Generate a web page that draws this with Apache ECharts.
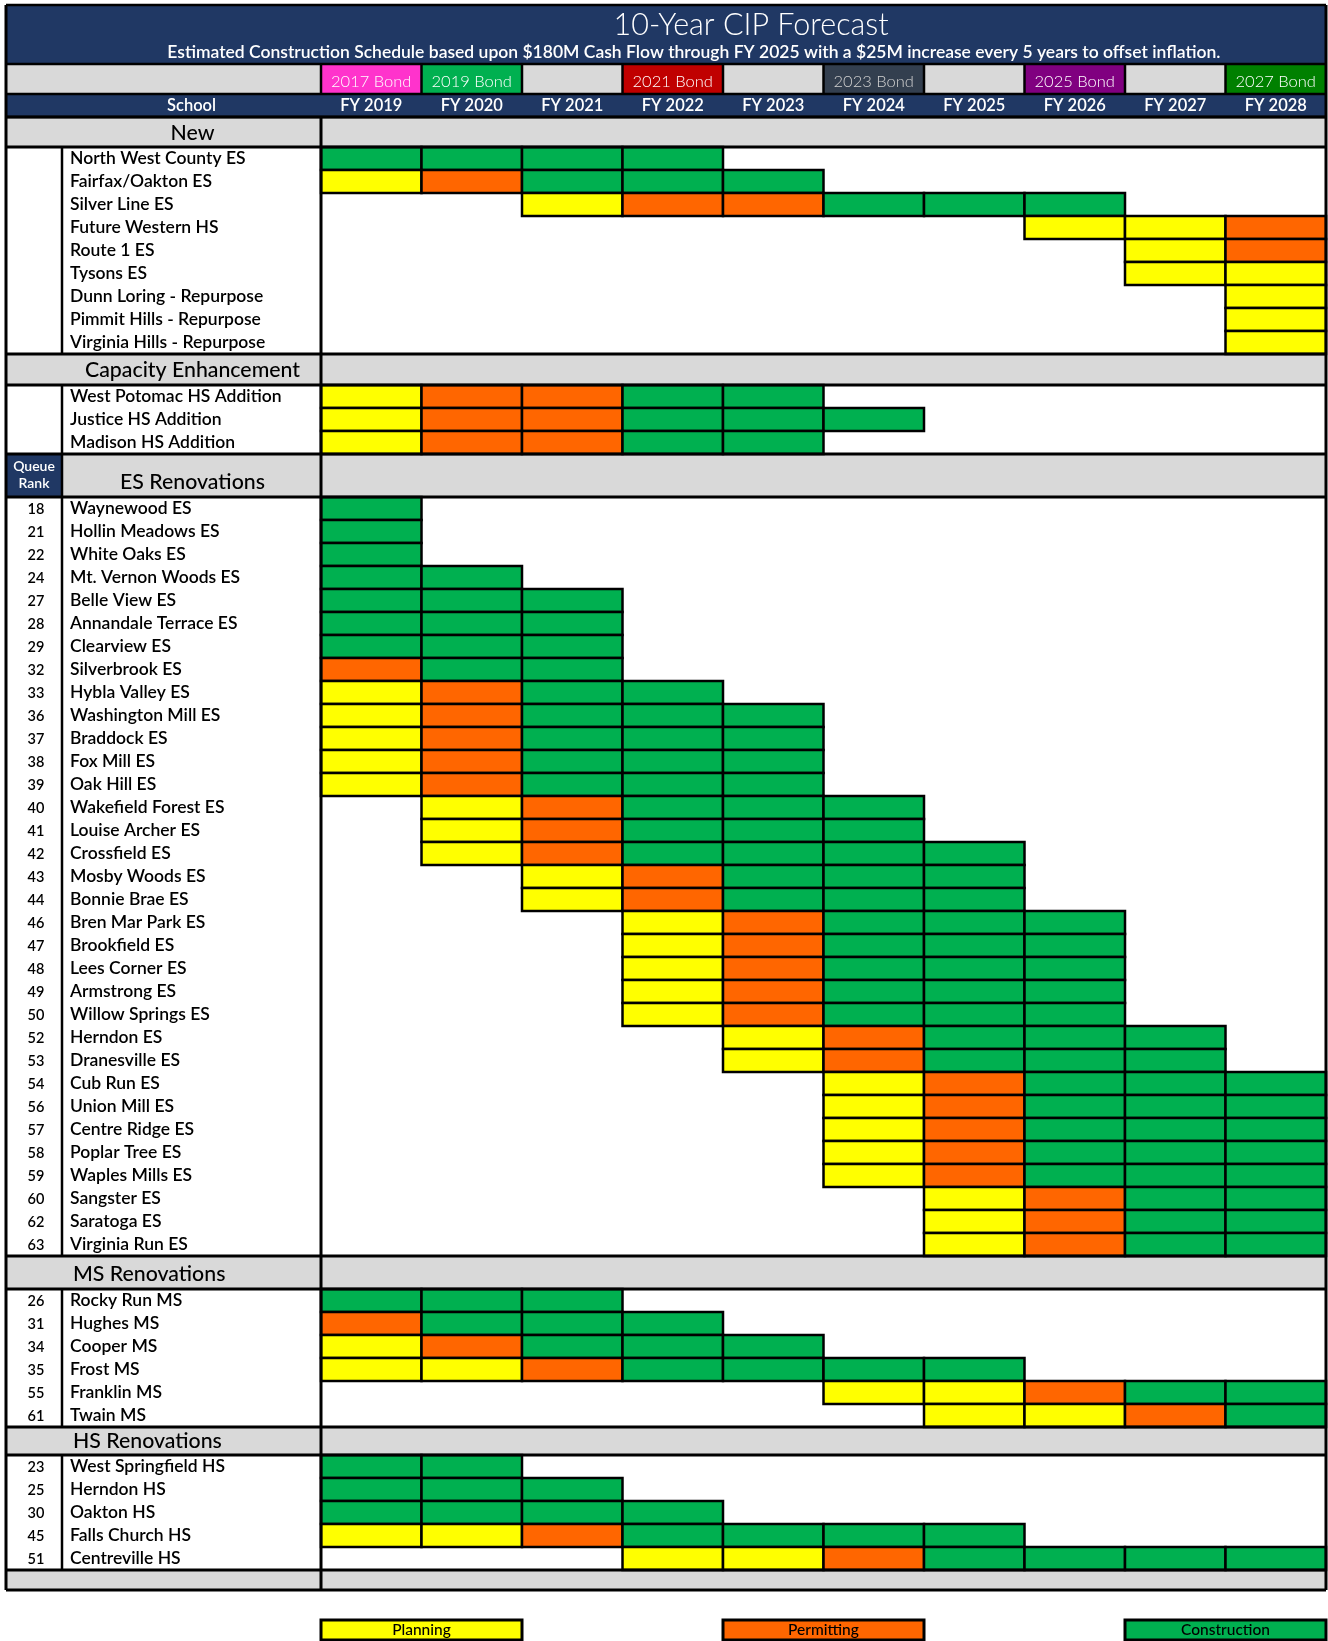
<!DOCTYPE html>
<html><head><meta charset="utf-8">
<script src="https://cdn.jsdelivr.net/npm/echarts@6/dist/echarts.min.js"></script>
<style>html,body{margin:0;padding:0;background:#fff}#chart{width:1328px;height:1641px}</style>
</head><body><div id="chart"></div>
<script>
// ================= DATA =================
const chartTitle = '10-Year CIP Forecast';
const chartSubtitle = 'Estimated Construction Schedule based upon $180M Cash Flow through FY 2025 with a $25M increase every 5 years to offset inflation.';
const fiscalYears = ['FY 2019','FY 2020','FY 2021','FY 2022','FY 2023','FY 2024','FY 2025','FY 2026','FY 2027','FY 2028'];
const bondLabels = ['2017 Bond','2019 Bond','','2021 Bond','','2023 Bond','','2025 Bond','','2027 Bond'];
const schoolHeader = 'School';
const queueRankLabel = ['Queue','Rank'];
const sectionNames = ['New','Capacity Enhancement','ES Renovations','MS Renovations','HS Renovations'];
const phaseNames = ['Planning','Permitting','Construction'];
const phaseCodes = ['P','M','C']; // '.' = no activity that year

const newSchools = ['North West County ES','Fairfax/Oakton ES','Silver Line ES','Future Western HS','Route 1 ES','Tysons ES','Dunn Loring - Repurpose','Pimmit Hills - Repurpose','Virginia Hills - Repurpose'];
const newPlans = ['CCCC','PMCCC','..PMMCCC','.......PPM','........PM','........PP','.........P','.........P','.........P'];

const capacitySchools = ['West Potomac HS Addition','Justice HS Addition','Madison HS Addition'];
const capacityPlans = ['PMMCC','PMMCCC','PMMCC'];

const esRanks = [18,21,22,24,27,28,29,32,33,36,37,38,39,40,41,42,43,44,46,47,48,49,50,52,53,54,56,57,58,59,60,62,63];
const esSchools = ['Waynewood ES','Hollin Meadows ES','White Oaks ES','Mt. Vernon Woods ES','Belle View ES','Annandale Terrace ES','Clearview ES','Silverbrook ES','Hybla Valley ES','Washington Mill ES','Braddock ES','Fox Mill ES','Oak Hill ES','Wakefield Forest ES','Louise Archer ES','Crossfield ES','Mosby Woods ES','Bonnie Brae ES','Bren Mar Park ES','Brookfield ES','Lees Corner ES','Armstrong ES','Willow Springs ES','Herndon ES','Dranesville ES','Cub Run ES','Union Mill ES','Centre Ridge ES','Poplar Tree ES','Waples Mills ES','Sangster ES','Saratoga ES','Virginia Run ES'];
const esPlans = ['C','C','C','CC','CCC','CCC','CCC','MCC','PMCC','PMCCC','PMCCC','PMCCC','PMCCC','.PMCCC','.PMCCC','.PMCCCC','..PMCCC','..PMCCC','...PMCCC','...PMCCC','...PMCCC','...PMCCC','...PMCCC','....PMCCC','....PMCCC','.....PMCCC','.....PMCCC','.....PMCCC','.....PMCCC','.....PMCCC','......PMCC','......PMCC','......PMCC'];

const msRanks = [26,31,34,35,55,61];
const msSchools = ['Rocky Run MS','Hughes MS','Cooper MS','Frost MS','Franklin MS','Twain MS'];
const msPlans = ['CCC','MCCC','PMCCC','PPMCCCC','.....PPMCC','......PPMC'];

const hsRanks = [23,25,30,45,51];
const hsSchools = ['West Springfield HS','Herndon HS','Oakton HS','Falls Church HS','Centreville HS'];
const hsPlans = ['CC','CCC','CCCC','PPMCCCC','...PPMCCCC'];

// ================= STYLE / LAYOUT =================
const FONT = 'Lato, "Open Sans", sans-serif';
const NAVY = '#203864', GRAY = '#D9D9D9';
const PHASE_COLORS = { P: '#FFFF00', M: '#FF6600', C: '#00B050' };
const BOND_COLORS = { '2017 Bond': '#FF33CC', '2019 Bond': '#00B050', '2021 Bond': '#C00000', '2023 Bond': '#333F4F', '2025 Bond': '#800080', '2027 Bond': '#008000' };
const BOND_TEXT = { '2023 Bond': '#D0D0D0' };
const LEGEND_SPANS = [[0, 2], [4, 6], [8, 10]];

const COL_PX = 100.5;               // one fiscal-year column
const LEFT_PX = 315;                // rank + school columns width
const XL = -LEFT_PX / COL_PX;       // left edge of table in column units
const RANK_X = XL + 56 / COL_PX;    // rank / school divider
const ROW_PX = 23;

const sections = [
  { name: sectionNames[0], ranks: [], schools: newSchools, plans: newPlans, headerPx: 30, align: 'center', dy: 1 },
  { name: sectionNames[1], ranks: [], schools: capacitySchools, plans: capacityPlans, headerPx: 31, align: 'center', dy: 1 },
  { name: sectionNames[2], ranks: esRanks, schools: esSchools, plans: esPlans, headerPx: 43, align: 'center', dy: 7, queue: true },
  { name: sectionNames[3], ranks: msRanks, schools: msSchools, plans: msPlans, headerPx: 33, align: 'left', dy: 2 },
  { name: sectionNames[4], ranks: hsRanks, schools: hsSchools, plans: hsPlans, headerPx: 28, align: 'left', dy: 0 }
];

const bands = [];
let cursor = 0;
function pushBand(b, px) { b.y0 = cursor; cursor += px / ROW_PX; b.y1 = cursor; bands.push(b); return b; }
const titleBand = pushBand({ kind: 'title' }, 59);
const bondBand = pushBand({ kind: 'bond' }, 30);
const fyBand = pushBand({ kind: 'fy' }, 23);
const rows = [];
sections.forEach(sec => {
  sec.header = pushBand({ kind: 'section', sec }, sec.headerPx);
  sec.rowStart = cursor;
  sec.schools.forEach((name, i) => {
    rows.push(pushBand({ kind: 'row', name, rank: sec.ranks[i], plan: sec.plans[i] }, ROW_PX));
  });
  sec.rowEnd = cursor;
});
const footerBand = pushBand({ kind: 'footer' }, 20);
pushBand({ kind: 'gap' }, 30);
const legendBand = pushBand({ kind: 'legend' }, 20);
const TOTAL = cursor;

// cells: [col, y0, y1, phaseIndex]
const cellData = [];
rows.forEach(r => {
  for (let k = 0; k < r.plan.length; k++) {
    const c = r.plan[k];
    if (c !== '.') cellData.push([k, r.y0, r.y1, phaseCodes.indexOf(c)]);
  }
});
const legendData = LEGEND_SPANS.map((s, i) => [s[0], s[1], legendBand.y0, legendBand.y1, i]);

// lines: [x1, y1, x2, y2, width]
const lineData = [];
const tableTop = titleBand.y0, tableBottom = footerBand.y1;
[titleBand.y0, titleBand.y1, bondBand.y1, fyBand.y1].forEach(y => lineData.push([XL, y, 10, y, 2.5]));
sections.forEach(sec => {
  lineData.push([XL, sec.header.y0, 10, sec.header.y0, 3]);
  lineData.push([XL, sec.header.y1, 10, sec.header.y1, 3]);
  lineData.push([RANK_X, sec.queue ? sec.header.y0 : sec.rowStart, RANK_X, sec.rowEnd, 2.5]);
});
lineData.push([XL, footerBand.y0, 10, footerBand.y0, 3]);
lineData.push([XL, footerBand.y1, 10, footerBand.y1, 3]);
lineData.push([XL, tableTop, XL, tableBottom, 3]);
lineData.push([10, tableTop, 10, tableBottom, 3]);
lineData.push([0, fyBand.y1, 0, tableBottom, 3]);
for (let k = 0; k < 10; k++) lineData.push([k, bondBand.y0, k, bondBand.y1, 2.5]);

// ================= RENDER =================
function rectBetween(api, x0, y0, x1, y1, style) {
  const a = api.coord([x0, y0]), b = api.coord([x1, y1]);
  return { type: 'rect', shape: { x: a[0], y: a[1], width: b[0] - a[0], height: b[1] - a[1] }, style };
}
function txt(x, y, text, o) {
  return { type: 'text', style: Object.assign({ x, y, text, fill: '#000', fontFamily: FONT, fontSize: 16, fontWeight: 500, align: 'center', verticalAlign: 'middle' }, o || {}) };
}

function renderBand(params, api) {
  const b = bands[params.dataIndex];
  const top = api.coord([0, b.y0])[1], bot = api.coord([0, b.y1])[1];
  const xc = x => api.coord([x, 0])[0];
  const children = [];
  if (b.kind === 'title') {
    children.push(rectBetween(api, XL, b.y0, 10, b.y1, { fill: NAVY }));
    children.push(txt(xc(4.28), top + 20, chartTitle, { fill: '#fff', fontSize: 30.5, fontWeight: 300 }));
    children.push(txt(xc(3.71), top + 47, chartSubtitle, { fill: '#fff', fontSize: 17.5, fontWeight: 600 }));
  } else if (b.kind === 'bond') {
    children.push(rectBetween(api, XL, b.y0, 0, b.y1, { fill: GRAY }));
    bondLabels.forEach((lab, k) => {
      children.push(rectBetween(api, k, b.y0, k + 1, b.y1, { fill: lab ? BOND_COLORS[lab] : GRAY }));
      if (lab) children.push(txt(xc(k + 0.5), top + 17.5, lab, { fill: BOND_TEXT[lab] || '#fff', fontSize: 16.5, fontWeight: 300 }));
    });
  } else if (b.kind === 'fy') {
    children.push(rectBetween(api, XL, b.y0, 10, b.y1, { fill: NAVY }));
    children.push(txt((xc(RANK_X) + xc(0)) / 2, (top + bot) / 2, schoolHeader, { fill: '#fff', fontSize: 16.5, fontWeight: 600 }));
    fiscalYears.forEach((fy, k) => children.push(txt(xc(k + 0.5), (top + bot) / 2, fy, { fill: '#fff', fontSize: 16.5, fontWeight: 600 })));
  } else if (b.kind === 'section') {
    const sec = b.sec;
    children.push(rectBetween(api, XL, b.y0, 10, b.y1, { fill: GRAY }));
    if (sec.queue) {
      children.push(rectBetween(api, XL, b.y0, RANK_X, b.y1, { fill: NAVY }));
      const cx = (xc(XL) + xc(RANK_X)) / 2;
      children.push(txt(cx, top + 12, queueRankLabel[0], { fill: '#fff', fontSize: 14, fontWeight: 600 }));
      children.push(txt(cx, top + 29, queueRankLabel[1], { fill: '#fff', fontSize: 14, fontWeight: 600 }));
    }
    const ty = (top + bot) / 2 + sec.dy;
    if (sec.align === 'center') children.push(txt((xc(RANK_X) + xc(0)) / 2 + 1, ty, sec.name, { fontSize: 21.3, fontWeight: 500 }));
    else children.push(txt(xc(RANK_X) + 11, ty, sec.name, { fontSize: 21.3, fontWeight: 500, align: 'left' }));
  } else if (b.kind === 'footer') {
    children.push(rectBetween(api, XL, b.y0, 10, b.y1, { fill: GRAY }));
  }
  return { type: 'group', children };
}

function renderRowLabel(params, api) {
  const r = rows[params.dataIndex];
  const ym = (api.coord([0, r.y0])[1] + api.coord([0, r.y1])[1]) / 2;
  const children = [];
  if (r.rank !== undefined) children.push(txt((api.coord([XL, 0])[0] + api.coord([RANK_X, 0])[0]) / 2 + 2, ym + 1, String(r.rank), { fontSize: 14.5, fontWeight: 600 }));
  children.push(txt(api.coord([RANK_X, 0])[0] + 8, ym, r.name, { fontSize: 17.5, fontWeight: 600, align: 'left' }));
  return { type: 'group', children };
}

function renderCell(params, api) {
  return rectBetween(api, api.value(0), api.value(1), api.value(0) + 1, api.value(2),
    { fill: PHASE_COLORS[phaseCodes[api.value(3)]], stroke: '#000', lineWidth: 2.5 });
}

function renderLegend(params, api) {
  const i = api.value(4);
  const a = api.coord([api.value(0), api.value(2)]), b = api.coord([api.value(1), api.value(3)]);
  return { type: 'group', children: [
    { type: 'rect', shape: { x: a[0], y: a[1], width: b[0] - a[0], height: b[1] - a[1] }, style: { fill: PHASE_COLORS[phaseCodes[i]], stroke: '#000', lineWidth: 3 } },
    txt((a[0] + b[0]) / 2, (a[1] + b[1]) / 2, phaseNames[i], { fontSize: 15.5, fontWeight: 500 })
  ]};
}

function renderLine(params, api) {
  const a = api.coord([api.value(0), api.value(1)]), b = api.coord([api.value(2), api.value(3)]);
  return { type: 'line', shape: { x1: a[0], y1: a[1], x2: b[0], y2: b[1] }, style: { stroke: '#000', lineWidth: api.value(4) } };
}

const chart = echarts.init(document.getElementById('chart'), null, { renderer: 'canvas' });
chart.setOption({
  animation: false,
  backgroundColor: '#fff',
  grid: { left: 6, right: 2, top: 5, height: TOTAL * ROW_PX },
  xAxis: { type: 'value', min: XL, max: 10, show: false },
  yAxis: { type: 'value', min: 0, max: TOTAL, inverse: true, show: false },
  series: [
    { type: 'custom', silent: true, z: 1, renderItem: renderBand, data: bands.map(b => [0, b.y0, b.y1]) },
    { type: 'custom', silent: true, z: 2, renderItem: renderCell, data: cellData },
    { type: 'custom', silent: true, z: 3, renderItem: renderLine, data: lineData },
    { type: 'custom', silent: true, z: 4, renderItem: renderRowLabel, data: rows.map(r => [0, r.y0, r.y1]) },
    { type: 'custom', silent: true, z: 4, renderItem: renderLegend, data: legendData }
  ]
});
</script></body></html>
